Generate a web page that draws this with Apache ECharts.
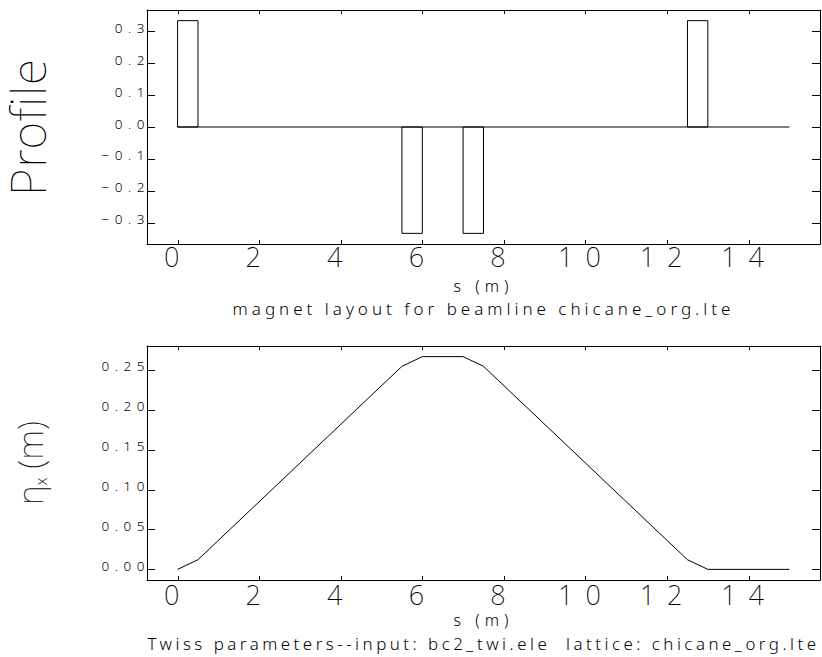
<!DOCTYPE html>
<html>
<head>
<meta charset="utf-8">
<script src="https://cdn.jsdelivr.net/npm/echarts@6/dist/echarts.min.js"></script>
<style>
html, body { margin: 0; padding: 0; background: #fff; }
#chart { width: 822px; height: 657px; }
text[style*="27px"] { letter-spacing: 12px; }
text[style*="13.5px"] { letter-spacing: 5.5px; }
text[style*="17px"] { letter-spacing: 4px; }
text[style*="16.9px"] { letter-spacing: 3.5px; }
text[style*="16px"] { letter-spacing: 5px; }
text[style*="48px"] { letter-spacing: 1px; }
</style>
</head>
<body>
<div id="chart"></div>
<script>
// ---- data ----
const magnetStart = [0.0, 5.5, 7.0, 12.5];
const magnetEnd = [0.5, 6.0, 7.5, 13.0];
const magnetProfile = [0.3333, -0.3333, -0.3333, 0.3333];
const beamlineS = [0.0, 15.0];
const etaS = [0.0, 0.5, 5.5, 6.0, 7.0, 7.5, 12.5, 13.0, 15.0];
const etaX = [0.0, 0.0121, 0.2545, 0.2667, 0.2667, 0.2545, 0.0121, 0.0, 0.0];
const sTicks = [0, 2, 4, 6, 8, 10, 12, 14];
const profileTicks = [-0.3, -0.2, -0.1, 0.0, 0.1, 0.2, 0.3];
const etaTicks = [0.00, 0.05, 0.10, 0.15, 0.20, 0.25];
const topTitle = 'magnet layout for beamline chicane_org.lte';
const bottomTitle = 'Twiss parameters--input: bc2_twi.ele  lattice: chicane_org.lte';

const FONT = 'Noto Sans';
const sRange = [-0.75, 15.75];
const profRange = [-0.36667, 0.36667];
const etaRange = [-0.013333, 0.28];

const chart = echarts.init(document.getElementById('chart'), null, { renderer: 'svg' });

const axisLine = { show: true, onZero: false, lineStyle: { color: '#000', width: 1 } };

function xAxes(gridIndex, labelMargin, nameGap) {
  const base = {
    type: 'value', gridIndex, min: sRange[0], max: sRange[1],
    axisLine, splitLine: { show: false }, axisTick: { show: false }
  };
  return [
    Object.assign({}, base, {
      position: 'bottom',
      axisLabel: { show: true, customValues: sTicks, margin: labelMargin, fontSize: 27, fontFamily: FONT, fontWeight: 200, color: '#000',
        formatter: v => String(v) },
      name: 's (m)', nameLocation: 'middle', nameGap,
      nameTextStyle: { fontSize: 16, fontFamily: FONT, fontWeight: 300, color: '#000' }
    }),
    Object.assign({}, base, { position: 'top', axisLabel: { show: false } })
  ];
}

function yAxes(gridIndex, range, ticks, digits, name, nameGap, nameStyle) {
  const base = {
    type: 'value', gridIndex, min: range[0], max: range[1],
    axisLine, splitLine: { show: false }, axisTick: { show: false }
  };
  return [
    Object.assign({}, base, {
      position: 'left',
      axisLabel: { show: true, customValues: ticks, margin: -3, fontSize: 13.5, fontFamily: FONT, fontWeight: 300, color: '#000',
        verticalAlign: 'bottom', lineHeight: 7,
        formatter: v => v.toFixed(digits).replace('-', '\u2212') },
      name, nameLocation: 'middle', nameRotate: 90, nameGap,
      nameTextStyle: nameStyle
    }),
    Object.assign({}, base, { position: 'right', axisLabel: { show: false } })
  ];
}

// tick marks (inward, on all four sides), placed through the axes' scales
const tickStyle = { stroke: '#000', lineWidth: 1 };
function xTickSeries(axisIndex, values, len) {
  return {
    type: 'custom', xAxisIndex: axisIndex, yAxisIndex: axisIndex, silent: true, clip: false, z: 3,
    encode: { x: 0, y: 1 },
    data: values.map(v => [v, 0]),
    renderItem: (params, api) => {
      const cs = params.coordSys;
      const px = Math.round(api.coord([api.value(0), api.value(1)])[0]) + 0.5;
      const yb = cs.y + cs.height, yt = cs.y;
      return { type: 'group', children: [
        { type: 'line', shape: { x1: px, y1: yb, x2: px, y2: yb - len }, style: tickStyle },
        { type: 'line', shape: { x1: px, y1: yt, x2: px, y2: yt + len }, style: tickStyle }
      ] };
    }
  };
}
function yTickSeries(axisIndex, values, len) {
  return {
    type: 'custom', xAxisIndex: axisIndex, yAxisIndex: axisIndex, silent: true, clip: false, z: 3,
    encode: { x: 0, y: 1 },
    data: values.map(v => [0, v]),
    renderItem: (params, api) => {
      const cs = params.coordSys;
      const py = Math.round(api.coord([api.value(0), api.value(1)])[1]) + 0.5;
      const xl = cs.x, xr = cs.x + cs.width;
      return { type: 'group', children: [
        { type: 'line', shape: { x1: xl, y1: py, x2: xl + len, y2: py }, style: tickStyle },
        { type: 'line', shape: { x1: xr, y1: py, x2: xr - len, y2: py }, style: tickStyle }
      ] };
    }
  };
}

const lineStyle = { color: '#000', width: 1 };
const series = [];
series.push({
  type: 'line', xAxisIndex: 0, yAxisIndex: 0, showSymbol: false, silent: true,
  lineStyle, data: beamlineS.map(s => [s, 0])
});
for (let i = 0; i < magnetStart.length; i++) {
  const a = magnetStart[i], b = magnetEnd[i], h = magnetProfile[i];
  series.push({
    type: 'line', xAxisIndex: 0, yAxisIndex: 0, showSymbol: false, silent: true,
    lineStyle, data: [[a, 0], [a, h], [b, h], [b, 0], [a, 0]]
  });
}
series.push({
  type: 'line', xAxisIndex: 2, yAxisIndex: 2, showSymbol: false, silent: true,
  lineStyle, data: etaS.map((s, i) => [s, etaX[i]])
});
series.push(xTickSeries(0, sTicks, 4));
series.push(yTickSeries(0, profileTicks, 8));
series.push(xTickSeries(2, sTicks, 4));
series.push(yTickSeries(2, etaTicks, 8));

const option = {
  animation: false,
  backgroundColor: '#fff',
  grid: [
    { left: 147, top: 10, width: 673, height: 234, show: false, containLabel: false, outerBoundsMode: 'none' },
    { left: 147, top: 346, width: 673, height: 234, show: false, containLabel: false, outerBoundsMode: 'none' }
  ],
  xAxis: [...xAxes(0, -1, 34), ...xAxes(1, 1, 32)],
  yAxis: [
    ...yAxes(0, profRange, profileTicks, 1, 'Profile', 96,
      { fontSize: 48, fontFamily: FONT, fontWeight: 100, color: '#000' }),
    ...yAxes(1, etaRange, etaTicks, 2, '{g|η}{s|x}{g| (m)}', 98,
      { color: '#000', rich: {
        g: { fontSize: 35, fontFamily: FONT, fontWeight: 100, color: '#000' },
        s: { fontSize: 15.5, fontFamily: FONT, fontWeight: 200, color: '#000', padding: [24, 0, 0, 0] }
      } })
  ],
  graphic: [
    { type: 'text', x: 483.5, y: 308.5, silent: true,
      style: { text: topTitle, textAlign: 'center', textVerticalAlign: 'middle', fontSize: 17, fontFamily: FONT, fontWeight: 300, fill: '#000' } },
    { type: 'text', x: 483.5, y: 643.3, silent: true,
      style: { text: bottomTitle, textAlign: 'center', textVerticalAlign: 'middle', fontSize: 16.9, fontFamily: FONT, fontWeight: 300, fill: '#000' } }
  ],
  series
};
chart.setOption(option);
</script>
</body>
</html>
